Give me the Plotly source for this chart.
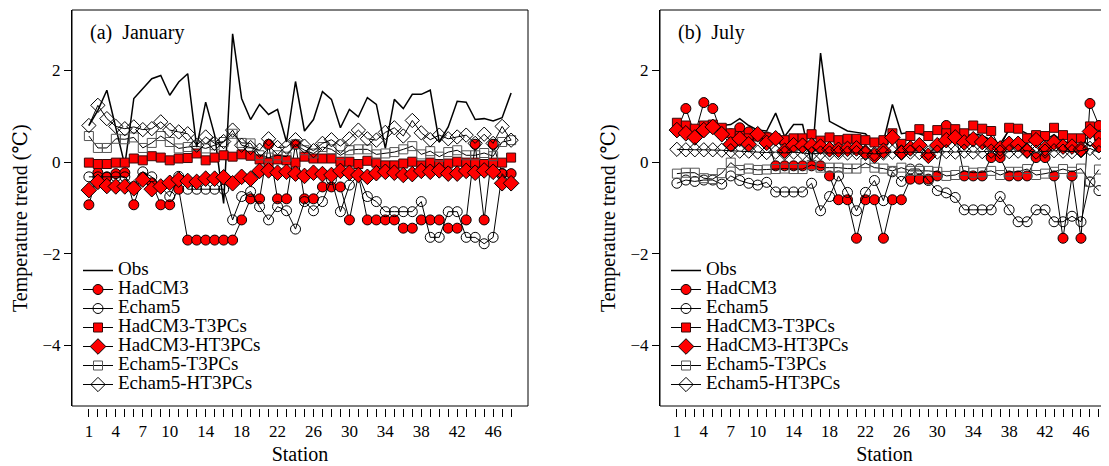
import plotly.graph_objects as go

stations = list(range(1, 49))
tick_labels = {1: "1", 4: "4", 7: "7", 10: "10", 14: "14", 18: "18", 22: "22",
               26: "26", 30: "30", 34: "34", 38: "38", 42: "42", 46: "46"}
ytick_vals = [-4, -2, 0, 2]
ytick_text = ["\u22124", "\u22122", "0", "2"]

series_names = ["Obs", "HadCM3", "Echam5", "HadCM3-T3PCs", "HadCM3-HT3PCs",
                "Echam5-T3PCs", "Echam5-HT3PCs"]

# ---------- (a) January ----------
jan_obs = [0.80, 1.13, 1.57, 0.77, -0.07, 1.39, 1.60, 1.82, 1.89, 1.46, 1.75, 1.93, 0.33, 1.31, 0.59, -0.90,
           2.80, 1.39, 0.93, 1.26, 1.04, 1.15, 0.44, 1.76, 0.68, 0.93, 1.54, 1.37, 0.75, 1.15, 0.99, 1.41,
           1.26, 0.30, 1.37, 1.17, 1.48, 1.48, 1.57, 0.44, 0.77, 1.33, 1.31, 0.93, 0.95, 0.90, 0.97, 1.51]
jan_had = [-0.93, -0.23, -0.32, -0.25, -0.23, -0.93, -0.33, -0.45, -0.93, -0.93, -0.59, -1.70, -1.70, -1.70, -1.70, -1.70,
           -1.70, -1.26, -0.80, -0.80, 0.39, -0.80, -0.80, 0.39, -0.80, -0.80, -0.54, -0.54, -0.54, -1.26, -0.28, -1.26,
           -1.26, -1.26, -1.26, -1.44, -1.44, -1.26, -1.26, -1.26, -1.44, -1.44, -1.26, 0.39, -1.26, 0.39, -0.25, -0.25]
jan_ech = [-0.32, -0.32, -0.33, -0.32, -0.32, -0.53, -0.21, -0.32, -0.53, -0.75, -0.31, -0.59, -0.59, -0.59, -0.59, -0.59,
           -1.26, -0.75, -0.64, -0.97, -1.26, -0.97, -1.06, -1.46, -0.86, -1.06, -0.86, -0.38, -1.08, -0.50, -0.28, -0.75,
           -0.86, -1.08, -1.08, -1.08, -1.08, -0.86, -1.64, -1.64, -1.08, -1.08, -1.64, -1.64, -1.78, -1.64, -0.25, -0.46]
jan_had_t3 = [-0.01, -0.04, -0.04, -0.01, -0.01, 0.08, 0.04, 0.13, 0.10, 0.04, 0.08, 0.09, 0.19, 0.04, 0.10, 0.15,
              0.12, 0.17, 0.14, 0.06, -0.01, 0.06, 0.04, -0.01, 0.12, 0.08, 0.08, 0.08, 0.01, 0.01, -0.04, 0.03,
              -0.01, -0.07, -0.07, -0.03, 0.01, -0.07, -0.01, -0.04, -0.03, 0.01, -0.01, -0.01, -0.04, -0.01, -0.01, 0.10]
jan_had_ht3 = [-0.61, -0.43, -0.52, -0.53, -0.53, -0.57, -0.38, -0.59, -0.53, -0.45, -0.38, -0.41, -0.43, -0.36, -0.36, -0.33,
               -0.46, -0.32, -0.36, -0.19, -0.18, -0.23, -0.21, -0.25, -0.30, -0.23, -0.26, -0.28, -0.19, -0.23, -0.28, -0.32,
               -0.24, -0.21, -0.23, -0.28, -0.26, -0.19, -0.21, -0.18, -0.25, -0.25, -0.19, -0.23, -0.18, -0.21, -0.46, -0.46]
jan_ech_t3 = [0.57, 0.31, 0.31, 0.51, 0.50, 0.54, 0.31, 0.42, 0.57, 0.44, 0.30, 0.33, 0.35, 0.30, 0.37, 0.44,
              0.62, 0.42, 0.41, 0.15, 0.10, 0.15, 0.12, 0.39, 0.26, 0.19, 0.33, 0.28, 0.15, 0.26, 0.28, 0.28,
              0.17, 0.19, 0.22, 0.28, 0.35, 0.17, 0.24, 0.12, 0.22, 0.26, 0.15, 0.15, 0.20, 0.13, 0.44, 0.48]
jan_ech_ht3 = [0.80, 1.24, 0.95, 0.78, 0.73, 0.77, 0.71, 0.73, 0.88, 0.70, 0.66, 0.62, 0.37, 0.55, 0.41, 0.45,
               0.70, 0.37, 0.32, 0.26, 0.51, 0.32, 0.33, 0.49, 0.35, 0.25, 0.41, 0.49, 0.35, 0.51, 0.70, 0.51,
               0.48, 0.65, 0.75, 0.57, 0.91, 0.64, 0.49, 0.59, 0.51, 0.55, 0.59, 0.41, 0.61, 0.41, 0.78, 0.48]

# ---------- (b) July ----------
jul_obs = [0.75, 0.70, 0.80, 0.72, 0.78, 0.80, 0.82, 0.95, 0.80, 0.70, 0.68, 1.07, 0.56, 0.82, 0.82, -0.05,
           2.38, 0.89, 0.78, 0.68, 0.65, 0.62, 0.40, 0.45, 1.26, 0.62, 0.65, 0.62, 0.55, 0.72, 0.65, 0.60,
           0.55, 0.62, 0.58, 0.48, 0.40, 0.70, 0.72, 0.62, 0.60, 0.48, 0.60, 0.45, 0.40, 0.50, 0.35, 0.45]
jul_had = [0.68, 1.17, 0.60, 1.30, 1.17, 0.60, 0.62, 0.75, 0.66, 0.62, 0.55, -0.08, -0.08, -0.08, -0.08, -0.08,
           -0.08, -0.30, -0.82, -0.82, -1.66, -0.82, -0.82, -1.66, -0.82, -0.82, -0.37, -0.37, -0.37, -0.30, 0.80, 0.65,
           -0.30, -0.30, -0.30, 0.10, 0.10, -0.30, -0.30, -0.30, 0.10, 0.10, -0.30, -1.66, -0.30, -1.66, 1.28, 0.80]
jul_ech = [-0.46, -0.39, -0.42, -0.39, -0.39, -0.48, -0.30, -0.40, -0.46, -0.50, -0.44, -0.65, -0.65, -0.65, -0.65, -0.46,
           -1.06, -0.75, -0.30, -0.66, -1.06, -0.66, -0.40, -0.84, -0.21, -0.42, -0.15, -0.15, -0.40, -0.62, -0.67, -0.77,
           -1.04, -1.04, -1.04, -1.04, -0.75, -1.04, -1.30, -1.30, -1.04, -1.04, -1.30, -1.30, -1.18, -1.30, -0.43, -0.62]
jul_had_t3 = [0.86, 0.80, 0.73, 0.80, 0.82, 0.75, 0.63, 0.57, 0.52, 0.56, 0.54, 0.52, 0.48, 0.52, 0.52, 0.61,
              0.47, 0.54, 0.48, 0.51, 0.51, 0.48, 0.43, 0.48, 0.63, 0.40, 0.57, 0.72, 0.57, 0.70, 0.63, 0.72,
              0.63, 0.80, 0.73, 0.68, 0.30, 0.75, 0.73, 0.52, 0.59, 0.57, 0.75, 0.59, 0.52, 0.52, 0.78, 0.57]
jul_had_ht3 = [0.70, 0.63, 0.54, 0.70, 0.77, 0.61, 0.39, 0.51, 0.39, 0.61, 0.42, 0.52, 0.25, 0.37, 0.36, 0.36,
               0.34, 0.28, 0.27, 0.29, 0.30, 0.21, 0.14, 0.25, 0.54, 0.21, 0.30, 0.37, 0.14, 0.37, 0.48, 0.54,
               0.43, 0.50, 0.44, 0.40, 0.30, 0.40, 0.40, 0.25, 0.48, 0.30, 0.43, 0.34, 0.34, 0.28, 0.67, 0.37]
jul_ech_t3 = [-0.25, -0.23, -0.23, -0.35, -0.37, -0.24, -0.01, -0.17, -0.14, -0.17, -0.16, -0.15, -0.14, -0.15, -0.15, -0.06,
              -0.12, -0.12, -0.12, -0.14, -0.14, -0.02, -0.12, -0.14, -0.19, -0.12, -0.19, -0.19, -0.19, -0.21, -0.30, -0.28,
              -0.19, -0.23, -0.22, -0.19, -0.28, -0.21, -0.21, -0.15, -0.28, -0.25, -0.21, -0.15, -0.21, -0.14, -0.43, -0.16]
jul_ech_ht3 = [0.28, 0.27, 0.27, 0.27, 0.27, 0.26, 0.25, 0.24, 0.24, 0.22, 0.21, 0.22, 0.20, 0.22, 0.20, 0.18,
               0.20, 0.20, 0.21, 0.20, 0.21, 0.20, 0.18, 0.20, 0.22, 0.21, 0.22, 0.21, 0.20, 0.22, 0.23, 0.22,
               0.24, 0.22, 0.23, 0.24, 0.22, 0.23, 0.24, 0.25, 0.22, 0.24, 0.25, 0.24, 0.23, 0.25, 0.30, 0.21]

FONT = "Liberation Serif, Times New Roman, DejaVu Serif, Noto Sans CJK SC, serif"
RED = "#FF0000"

styles = [
    dict(mode="lines", line=dict(color="black", width=1.5)),
    dict(mode="lines+markers", line=dict(color="black", width=1),
         marker=dict(symbol="circle", size=10, color=RED, line=dict(color="black", width=1))),
    dict(mode="lines+markers", line=dict(color="black", width=1),
         marker=dict(symbol="circle-open", size=10, color="black", line=dict(width=1))),
    dict(mode="lines+markers", line=dict(color="black", width=1),
         marker=dict(symbol="square", size=9, color=RED, line=dict(color="#3a0a0a", width=1))),
    dict(mode="lines+markers", line=dict(color="black", width=1),
         marker=dict(symbol="diamond", size=12, color=RED, line=dict(color="black", width=1))),
    dict(mode="lines+markers", line=dict(color="black", width=1),
         marker=dict(symbol="square-open", size=9, color="#555555", line=dict(width=1))),
    dict(mode="lines+markers", line=dict(color="black", width=1),
         marker=dict(symbol="diamond-open", size=11, color="black", line=dict(width=1))),
]

jan = [jan_obs, jan_had, jan_ech, jan_had_t3, jan_had_ht3, jan_ech_t3, jan_ech_ht3]
jul = [jul_obs, jul_had, jul_ech, jul_had_t3, jul_had_ht3, jul_ech_t3, jul_ech_ht3]


def legend_label(name):
    # larger rendered text while the legend keeps the reference's tight row spacing
    return '<span style="font-size:19px">' + name + "</span>"


fig = go.Figure()
for name, vals, st in zip(series_names, jan, styles):
    fig.add_trace(go.Scatter(x=stations, y=vals, name=legend_label(name), xaxis="x", yaxis="y",
                             legend="legend", hovertemplate=name + ": %{y}<extra></extra>", **st))
for name, vals, st in zip(series_names, jul, styles):
    fig.add_trace(go.Scatter(x=stations, y=vals, name=legend_label(name), xaxis="x2", yaxis="y2",
                             legend="legend2", hovertemplate=name + ": %{y}<extra></extra>", **st))

# page is offset by the 8px body margin -> figure coordinates = page - 8
W, H = 1101, 458
ydom = [1 - 398 / H, 1 - 2 / H]
xpos = 1 - 400 / H
tickvals = stations
ticktext = [tick_labels.get(s, "") for s in stations]

xcommon = dict(tickmode="array", tickvals=tickvals, ticktext=ticktext, ticks="outside",
               ticklen=8, tickwidth=1, tickcolor="black", showline=False, showgrid=False,
               zeroline=False, anchor="free", position=xpos,
               tickfont=dict(size=17, family=FONT, color="black"),
               title=dict(text="Station", font=dict(size=20, family=FONT, color="black"), standoff=6))
ycommon = dict(range=[-5.32, 3.32], tickmode="array", tickvals=ytick_vals, ticktext=ytick_text,
               ticks="outside", ticklen=7, tickwidth=1, tickcolor="black", showline=True,
               linecolor="black", linewidth=1, showgrid=False, zeroline=False,
               tickfont=dict(size=17, family=FONT, color="black"))

legend_common = dict(font=dict(size=12, family=FONT, color="black"), bgcolor="rgba(0,0,0,0)",
                     borderwidth=0, xanchor="left", yanchor="top", tracegroupgap=0,
                     itemwidth=30, itemclick=False, itemdoubleclick=False)

fig.update_layout(
    width=W, height=H,
    margin=dict(l=0, r=0, t=0, b=0),
    paper_bgcolor="white", plot_bgcolor="white",
    font=dict(family=FONT, color="black"),
    xaxis=dict(domain=[64 / W, 520 / W], range=[-0.88, 49.88], **xcommon),
    yaxis=dict(domain=ydom, anchor="x", **ycommon),
    xaxis2=dict(domain=[652 / W, 1.0], range=[-0.88, 49.12], **xcommon),
    yaxis2=dict(domain=ydom, anchor="x2", **ycommon),
    legend=dict(x=70 / W, y=1 - 248 / H, **legend_common),
    legend2=dict(x=658 / W, y=1 - 248 / H, **legend_common),
    showlegend=True,
)

# Boxes around panels
line = dict(color="black", width=1)
fig.add_shape(type="rect", xref="x domain", yref="y domain", x0=0, x1=1, y0=0, y1=1, line=line)
fig.add_shape(type="line", xref="x2 domain", yref="y2 domain", x0=0, x1=1, y0=1, y1=1, line=line)
fig.add_shape(type="line", xref="x2 domain", yref="y2 domain", x0=0, x1=1, y0=0, y1=0, line=line)
fig.add_shape(type="line", xref="x2 domain", yref="y2 domain", x0=0, x1=0, y0=0, y1=1, line=line)

# Y axis titles
ytitle = "Temperature trend (\u2103)"
for xc in (12, 600):
    fig.add_annotation(text=ytitle, xref="paper", yref="paper", x=xc / W, y=1 - 210 / H,
                       xanchor="center", yanchor="middle", textangle=-90, showarrow=False,
                       font=dict(size=20, family=FONT, color="black"))

# Panel labels
fig.add_annotation(text="(a)  January", xref="x domain", yref="y domain", x=0.036, y=0.943,
                   xanchor="left", yanchor="middle", showarrow=False,
                   font=dict(size=20, family=FONT, color="black"))
fig.add_annotation(text="(b)  July", xref="x2 domain", yref="y2 domain", x=0.036, y=0.943,
                   xanchor="left", yanchor="middle", showarrow=False,
                   font=dict(size=20, family=FONT, color="black"))

fig.write_html("out.html")
